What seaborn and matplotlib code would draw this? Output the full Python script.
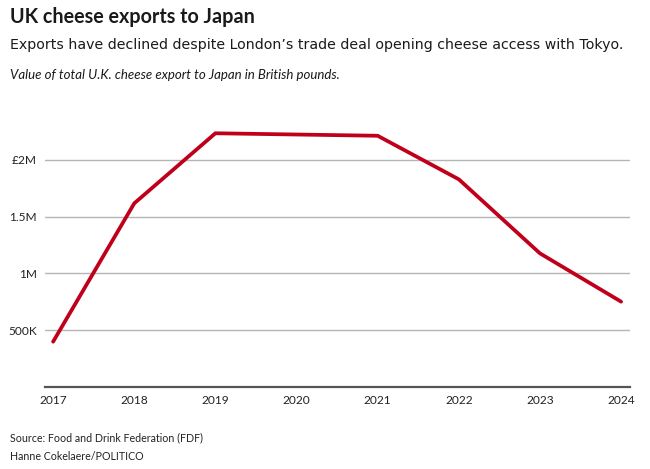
import numpy as np
import pandas as pd
import matplotlib.pyplot as plt
import seaborn as sns

sns.set_style('white')
plt.rcParams['font.family'] = ['Lato', 'DejaVu Sans']

# data (GBP, millions)
years = [2017, 2018, 2019, 2020, 2021, 2022, 2023, 2024]
exports_m = [0.397, 1.617, 2.235, 2.224, 2.213, 1.829, 1.176, 0.750]

df = pd.DataFrame({'year': years, 'value': exports_m})

ytick_vals = [0.5, 1.0, 1.5, 2.0]
ytick_labels = ['500K', '1M', '1.5M', '£2M']

W, H = 650, 469
fig = plt.figure(figsize=(W / 100, H / 100), dpi=100)
ax = fig.add_axes([45 / W, (H - 386.7) / H, 585 / W, (386.7 - 120) / H])

sns.lineplot(data=df, x='year', y='value', ax=ax, color='#c0001b', linewidth=2.7,
             solid_joinstyle='miter', zorder=3)

ax.set_xlim(2016.9, 2024.11)
ax.set_ylim(0, 2.352)
ax.set_xticks(years)
ax.set_xticklabels([str(y) for y in years], fontsize=8.6, color='#222222')
ax.set_yticks(ytick_vals)
ax.set_yticklabels(ytick_labels, fontsize=8.6, color='#222222')
ax.tick_params(axis='both', length=0, pad=6)
ax.grid(axis='y', color='#b5b5b5', linewidth=1)
ax.grid(axis='x', visible=False)
ax.set_xlabel('')
ax.set_ylabel('')
for s in ['left', 'right', 'top']:
    ax.spines[s].set_visible(False)
ax.spines['bottom'].set_color('#555555')
ax.spines['bottom'].set_linewidth(1.6)

fig.text(10 / W, 1 - 17 / H, 'UK cheese exports to Japan', fontsize=14.2,
         fontweight='bold', color='#1a1a1a', va='center', ha='left')
fig.text(10 / W, 1 - 45 / H,
         "Exports have declined despite London’s trade deal opening cheese access with Tokyo.",
         fontsize=10.15, family='DejaVu Sans', color='#1a1a1a', va='center', ha='left')
fig.text(10 / W, 1 - 75 / H,
         'Value of total U.K. cheese export to Japan in British pounds.',
         fontsize=9.5, style='italic', color='#1a1a1a', va='center', ha='left')
fig.text(10 / W, 1 - 438 / H, 'Source: Food and Drink Federation (FDF)',
         fontsize=7.7, color='#222222', va='center', ha='left')
fig.text(10 / W, 1 - 456 / H, 'Hanne Cokelaere/POLITICO',
         fontsize=7.7, color='#222222', va='center', ha='left')

fig.savefig('out.png', dpi=100)
